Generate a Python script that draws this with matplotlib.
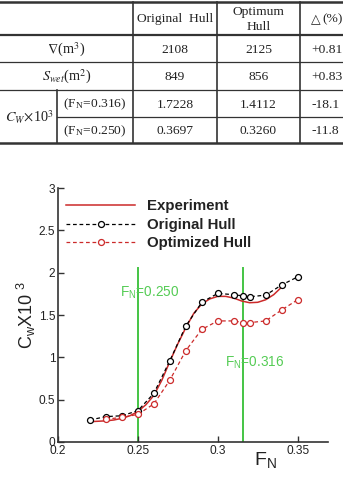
import matplotlib
matplotlib.use("Agg")
import matplotlib.pyplot as plt

# ---------------- data ----------------
table_cols = ["Original  Hull", "Optimum\nHull", "\u25b3(%)"]
vol_row = ["2108", "2125", "+0.81"]
swet_row = ["849", "856", "+0.83"]
cw316_row = ["1.7228", "1.4112", "-18.1"]
cw250_row = ["0.3697", "0.3260", "-11.8"]

fn_exp = [0.22, 0.225, 0.23, 0.235, 0.24, 0.245, 0.25, 0.255, 0.26, 0.265, 0.27,
          0.275, 0.28, 0.285, 0.29, 0.295, 0.30, 0.305, 0.31, 0.315, 0.32, 0.325,
          0.33, 0.335, 0.34]
cw_exp = [0.24, 0.245, 0.25, 0.26, 0.28, 0.31, 0.36, 0.44, 0.55, 0.73, 0.95,
          1.16, 1.35, 1.52, 1.63, 1.69, 1.72, 1.72, 1.70, 1.665, 1.645, 1.65,
          1.68, 1.74, 1.83]

fn_orig = [0.22, 0.23, 0.24, 0.25, 0.26, 0.27, 0.28, 0.29, 0.30, 0.31, 0.316,
           0.32, 0.33, 0.34, 0.35]
cw_orig = [0.26, 0.30, 0.31, 0.37, 0.575, 0.96, 1.37, 1.65, 1.755, 1.74, 1.725,
           1.715, 1.735, 1.855, 1.95]

fn_opt = [0.23, 0.24, 0.25, 0.26, 0.27, 0.28, 0.29, 0.30, 0.31, 0.316, 0.32,
          0.33, 0.34, 0.35]
cw_opt = [0.27, 0.29, 0.326, 0.45, 0.73, 1.08, 1.33, 1.43, 1.43, 1.41, 1.41,
          1.43, 1.56, 1.68]

fn_marks = [0.25, 0.316]
mark_labels = ["F$_\\mathregular{N}$=0.250", "F$_\\mathregular{N}$=0.316"]

xticks = [0.2, 0.25, 0.3, 0.35]
xticklabels = ["0.2", "0.25", "0.3", "0.35"]
yticks = [0, 0.5, 1, 1.5, 2, 2.5, 3]
yticklabels = ["0", "0.5", "1", "1.5", "2", "2.5", "3"]

# ---------------- figure ----------------
W, H = 343, 478
fig = plt.figure(figsize=(W / 100, H / 100), dpi=100)

# ---- table (pixel coordinates overlay) ----
tax = fig.add_axes([0, 0, 1, 1])
tax.set_xlim(0, W)
tax.set_ylim(H, 0)
tax.axis("off")

serif = ["Liberation Serif", "DejaVu Serif"]
tfs = 9.7
lc = "#333333"
xs = [0, 57, 133, 217, 300, 370]
ys = [2, 35, 62, 90, 117, 143]
tax.plot([0, W], [ys[0]] * 2, color=lc, lw=1.8)
tax.plot([0, W], [ys[1]] * 2, color=lc, lw=1.6)
tax.plot([0, W], [ys[2]] * 2, color=lc, lw=0.9)
tax.plot([0, W], [ys[3]] * 2, color=lc, lw=0.9)
tax.plot([xs[1], W], [ys[4]] * 2, color=lc, lw=0.9)
tax.plot([0, W], [ys[5]] * 2, color=lc, lw=1.8)
for x in xs[2:5]:
    tax.plot([x, x], [ys[0], ys[5]], color=lc, lw=1.2)
tax.plot([xs[1], xs[1]], [ys[3], ys[5]], color=lc, lw=1.2)

def tcell(x, y, s, ha="center", fs=tfs, ls=1.1):
    tax.text(x, y, s, ha=ha, va="center", fontsize=fs, family=serif,
             math_fontfamily="stix", color="#222222", linespacing=ls)

tcell(175, 19, table_cols[0])
tcell(258.5, 19.5, table_cols[1], ls=1.3)
tax.text(311, 19.5, table_cols[2][0], ha="left", va="center", fontsize=9,
         family=["DejaVu Sans"], color="#222222")
tax.text(322, 19, table_cols[2][1:], ha="left", va="center", fontsize=tfs,
         family=serif, color="#222222")

rows = [vol_row, swet_row, cw316_row, cw250_row]
row_y = [50, 77, 104.5, 131.5]
for r, yy in zip(rows, row_y):
    tcell(175, yy, r[0])
    tcell(258.5, yy, r[1])
    tcell(311, yy, r[2], ha="left")

tcell(66.5, row_y[0], r"$\nabla$(m$^3$)", fs=10.3)
tcell(66.5, row_y[1], r"$S_{wet}$(m$^2$)", fs=10.3)
tcell(29, 117, r"$C_W\!\times\!$10$^3$", fs=10.3)
tcell(95, row_y[2], r"(F$_\mathregular{N}$=0.316)")
tcell(95, row_y[3], r"(F$_\mathregular{N}$=0.250)")

# ---- chart ----
sans = ["Liberation Sans", "DejaVu Sans"]
left, right, bottom, top = 58, 328, 442, 188
ax = fig.add_axes([left / W, 1 - bottom / H, (right - left) / W, (bottom - top) / H])
ax.set_xlim(0.2, 0.369)
ax.set_ylim(0, 3)

green = "#44c444"
red = "#cc2a2a"

for fn in fn_marks:
    ax.plot([fn, fn], [0, 2.06], color=green, lw=1.4, zorder=1)

ax.plot(fn_exp, cw_exp, color=red, lw=1.1, zorder=3, label="Experiment")
ax.plot(fn_orig, cw_orig, color="black", lw=0.9, ls=(0, (3, 2.2)), marker="o",
        ms=4.3, mfc="white", mec="black", mew=0.9, zorder=4, label="Original Hull")
ax.plot(fn_opt, cw_opt, color=red, lw=0.9, ls=(0, (3, 2.2)), marker="o",
        ms=4.3, mfc="white", mec=red, mew=0.9, zorder=4, label="Optimized Hull")

ax.text(0.2388, 1.76, mark_labels[0], color="#55cc55", fontsize=9.8,
        family=sans, ha="left", va="center")
ax.text(0.3044, 0.94, mark_labels[1], color="#55cc55", fontsize=9.8,
        family=sans, ha="left", va="center")

for s in ["top", "right"]:
    ax.spines[s].set_visible(False)
for s in ["left", "bottom"]:
    ax.spines[s].set_color("#333333")
    ax.spines[s].set_linewidth(1.2)

ax.set_xticks(xticks)
ax.set_xticklabels(xticklabels)
ax.set_yticks(yticks)
ax.set_yticklabels(yticklabels)
ax.tick_params(direction="in", length=4.5, width=1.0, color="#333333",
               labelsize=8.6, pad=2.0, labelcolor="#222222")
for lab in ax.get_xticklabels() + ax.get_yticklabels():
    lab.set_family(sans)

ax.set_xlabel("F$_\\mathregular{N}$", fontsize=14, family=sans, color="#222222")
ax.xaxis.set_label_coords(0.767, -0.035)
ax.set_ylabel("C$_\\mathregular{w}$X10 $^\\mathregular{3}$", fontsize=13,
              family=sans, color="#222222")
ax.yaxis.set_label_coords(-0.075, 0.5)

leg = ax.legend(loc="upper left", bbox_to_anchor=((66 - left) / (right - left), 0.955),
                frameon=False, handlelength=4.6, handletextpad=0.8,
                borderpad=0, borderaxespad=0, labelspacing=0.3,
                prop={"family": sans, "weight": "bold", "size": 10.8})
for t in leg.get_texts():
    t.set_color("#222222")

fig.savefig("out.png", dpi=100)
